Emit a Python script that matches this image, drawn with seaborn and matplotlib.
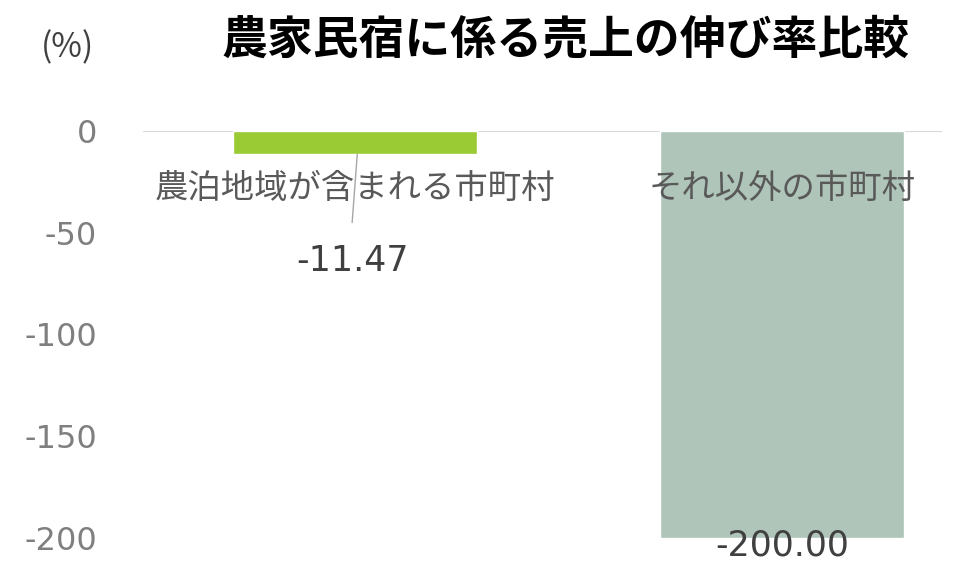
import seaborn as sns
import pandas as pd
import matplotlib.pyplot as plt

# data
categories = ['農泊地域が含まれる市町村', 'それ以外の市町村']
growth = [-11.47, -200.00]
bar_colors = ['#9ACB34', '#AFC5B9']
yticks = [0, -50, -100, -150, -200]

df = pd.DataFrame({'cat': categories, 'val': growth})

sns.set_theme(style='white')
plt.rcParams['font.family'] = ['Noto Sans CJK JP', 'DejaVu Sans']
num_font = ['DejaVu Sans']

fig = plt.figure(figsize=(9.6, 5.82), dpi=100)
ax = fig.add_axes([143/960, 1-538/582, (942-143)/960, (538-131)/582])

sns.barplot(data=df, x='cat', y='val', hue='cat', palette=bar_colors,
            width=0.573, legend=False, saturation=1, ax=ax)

ax.set_xlim(-0.497, 1.375)
ax.set_ylim(-200, 0)
ax.axhline(0, color='#D9D9D9', lw=1.5, zorder=0)
for s in ax.spines.values():
    s.set_visible(False)

ax.set_yticks(yticks)
ax.set_yticklabels([str(t) for t in yticks], family=num_font)
ax.tick_params(axis='y', length=0, pad=33, labelsize=23, labelcolor='#7F7F7F')
ax.set_xticks([])
ax.set_xlabel('')
ax.set_ylabel('')

# category labels sit just under the zero line
for i, c in enumerate(categories):
    ax.text(i, -28, c, ha='center', va='center', fontsize=24, color='#595959')

# value labels
ax.text(-0.007, -64, f'{growth[0]:.2f}', ha='center', va='center',
        fontsize=25, color='#404040', family=num_font)
ax.plot([0.005, -0.007], [growth[0], -45], color='#A6A6A6', lw=1)
ax.text(1, -203.5, f'{growth[1]:.2f}', ha='center', va='center',
        fontsize=25, color='#404040', family=num_font, clip_on=False)

fig.text(566/960, 1-40/582, '農家民宿に係る売上の伸び率比較', ha='center', va='center',
         fontsize=33, fontweight='bold', color='black')
fig.text(68/960, 1-48/582, '(%)', ha='center', va='center', fontsize=24, color='#404040')

fig.savefig('out.png', dpi=100)
